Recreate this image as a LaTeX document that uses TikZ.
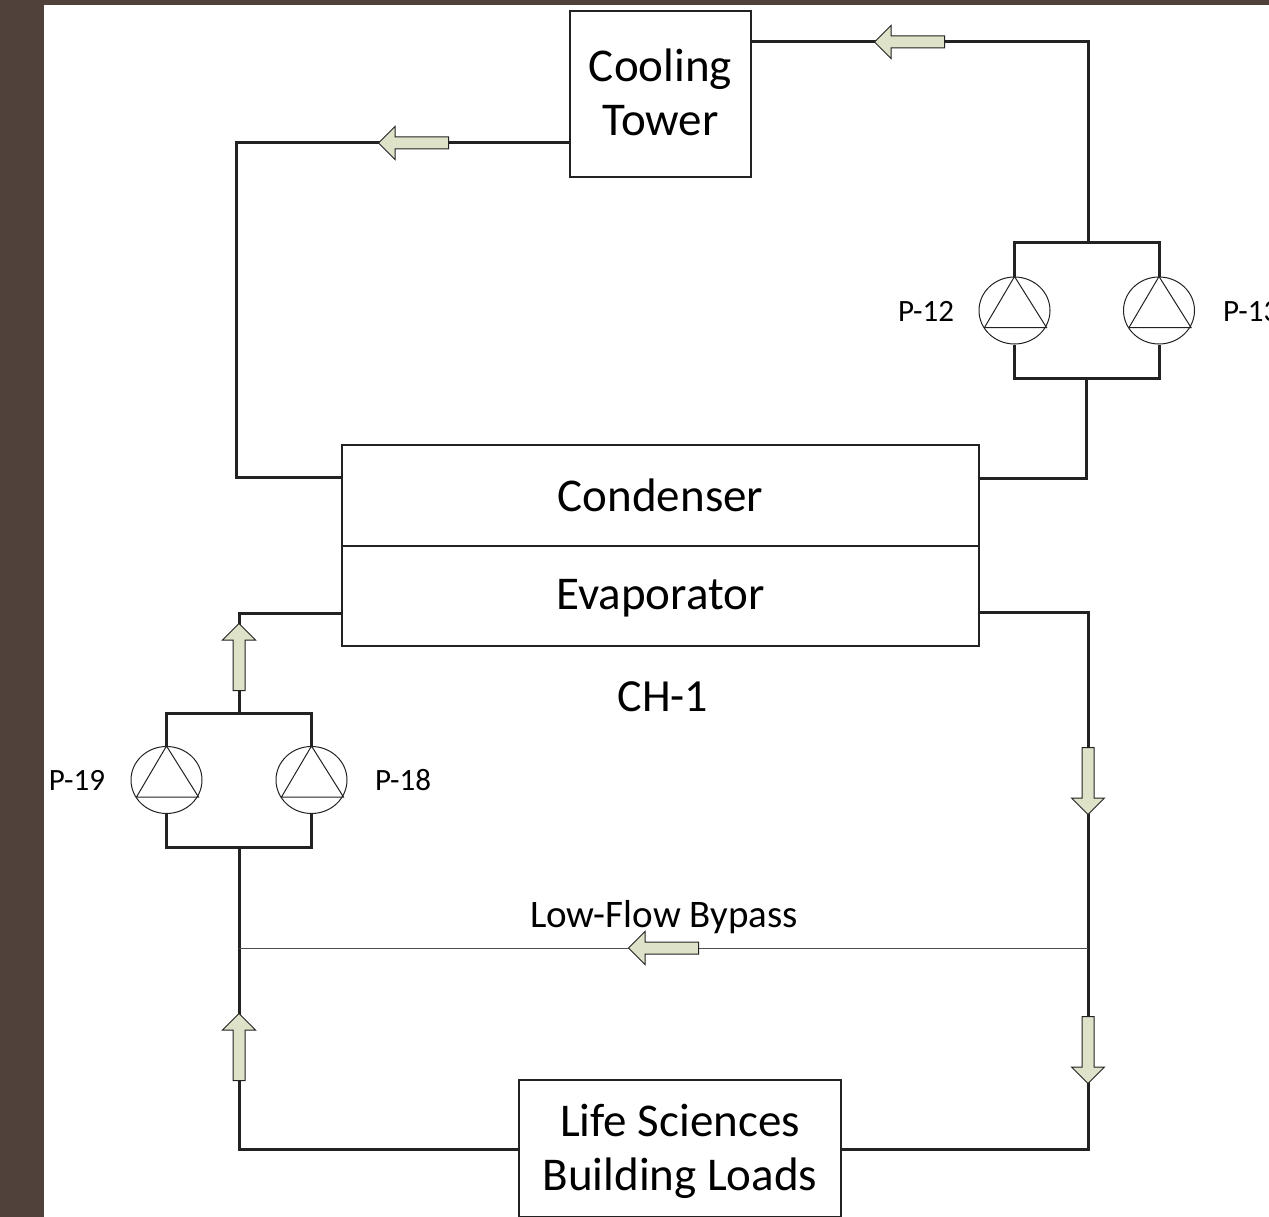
\documentclass[tikz,border=0pt]{standalone}
\usepackage{fontspec}
\setmainfont{Carlito}
\definecolor{chbrown}{HTML}{50423A}
\definecolor{chsage}{HTML}{DDE2C8}
\definecolor{chline}{HTML}{222222}
\usetikzlibrary{shapes.geometric,shapes.arrows}

\begin{document}
\begin{tikzpicture}[x=1pt,y=-1pt,
  unit/.style={draw=chline,line width=2.8pt,fill=white,align=center,inner sep=0pt,
    font=\fontsize{47}{54}\selectfont},
  pump/.style={draw=chline,line width=1pt,ellipse,inner sep=0pt,minimum width=71pt,minimum height=67pt},
  tag/.style={inner sep=0pt,font=\fontsize{31}{36}\selectfont},
  title/.style={inner sep=0pt,font=\fontsize{46}{54}\selectfont},
  note/.style={inner sep=0pt,font=\fontsize{39}{46}\selectfont},
  pipe/.style={draw=chline,line width=3pt,line join=miter},
  bypass/.style={draw=chline!80,line width=1pt},
  vane/.style={draw=chline,line width=1pt},
  flow/.style={single arrow,draw=chline,line width=1pt,fill=chsage,anchor=tail,inner sep=5.5pt,
    minimum height=70pt,minimum width=32pt,single arrow head extend=10.5pt},
  flowv/.style={flow,minimum height=67pt}]
  \useasboundingbox (0,0) rectangle (1269,1217);
  \fill[chbrown] (0,0) rectangle (44,1217);
  \fill[chbrown] (0,0) rectangle (1269,5);
  % units
  \node[unit,minimum width=181pt,minimum height=166pt,text depth=4pt] (tower) at (660.5,94) {Cooling\\Tower};
  \node[unit,minimum width=637pt,minimum height=101pt] (cond) at (660.5,495.5) {Condenser};
  \node[unit,minimum width=637pt,minimum height=100pt,text depth=3pt] (evap) at (660.5,596) {Evaporator};
  \node[unit,minimum width=322pt,minimum height=137pt,text depth=3pt] (load) at (680,1148.5) {Life Sciences\\Building Loads};
  \node[title] (ch) at (663,697) {CH-1};
  \node[note] (bp) at (664,917) {Low-Flow Bypass};
  % pumps
  \node[pump] (p12) at (1014.5,310.5) {};
  \node[pump] (p13) at (1159,310.5) {};
  \node[pump] (p19) at (166.5,780) {};
  \node[pump] (p18) at (311.5,780) {};
  \draw[vane] (p12.north) -- ++(-30,51) -- ++(62,0) -- cycle;
  \draw[vane] (p13.north) -- ++(-30,51) -- ++(62,0) -- cycle;
  \draw[vane] (p19.north) -- ++(-30,51) -- ++(62,0) -- cycle;
  \draw[vane] (p18.north) -- ++(-30,51) -- ++(62,0) -- cycle;
  \node[tag] (t12) at (926,311) {P-12};
  \node[tag,anchor=west] (t13) at (1223,312) {P-13};
  \node[tag] (t19) at (77,780) {P-19};
  \node[tag] (t18) at (403,780) {P-18};
  % junctions
  \coordinate (ne) at (1088,42);
  \coordinate (nw) at (236,143);
  \coordinate (ct) at (1088,243);
  \coordinate (cb) at (1086,378);
  \coordinate (cw) at (236,477);
  \coordinate (ce) at (1086,478);
  \coordinate (ew) at (239,613);
  \coordinate (ee) at (1088,612);
  \coordinate (ht) at (239,713);
  \coordinate (hb) at (239,847);
  \coordinate (bw) at (239,948);
  \coordinate (be) at (1088,948);
  \coordinate (sw) at (239,1149);
  \coordinate (se) at (1088,1149);
  % pipes
  \draw[pipe] (ne -| tower.east) -- (ne) -- (ct);
  \draw[pipe] (p12.north) -- (p12.north |- ct) -- (p13.north |- ct) -- (p13.north);
  \draw[pipe] (p12.south) -- (p12.south |- cb) -- (p13.south |- cb) -- (p13.south);
  \draw[pipe] (cb) -- (ce) -- (ce -| cond.east);
  \draw[pipe] (nw -| tower.west) -- (nw) -- (cw) -- (cw -| cond.west);
  \draw[pipe] (ew -| evap.west) -- (ew) -- (ht);
  \draw[pipe] (p19.north) -- (p19.north |- ht) -- (p18.north |- ht) -- (p18.north);
  \draw[pipe] (p19.south) -- (p19.south |- hb) -- (p18.south |- hb) -- (p18.south);
  \draw[pipe] (hb) -- (sw) -- (sw -| load.west);
  \draw[pipe] (ee -| evap.east) -- (ee) -- (se) -- (se -| load.east);
  \draw[bypass] (be) -- (bw);
  % flow arrows
  \node[flow,rotate=180] (f1) at (945,42) {};
  \node[flow,rotate=180] (f2) at (449,143) {};
  \node[flowv,rotate=90] (f3) at (239,691) {};
  \node[flowv,rotate=-90] (f4) at (1088,747) {};
  \node[flow,rotate=180] (f5) at (699,948) {};
  \node[flowv,rotate=90] (f6) at (239,1081) {};
  \node[flowv,rotate=-90] (f7) at (1088,1016) {};
\end{tikzpicture}
\end{document}
